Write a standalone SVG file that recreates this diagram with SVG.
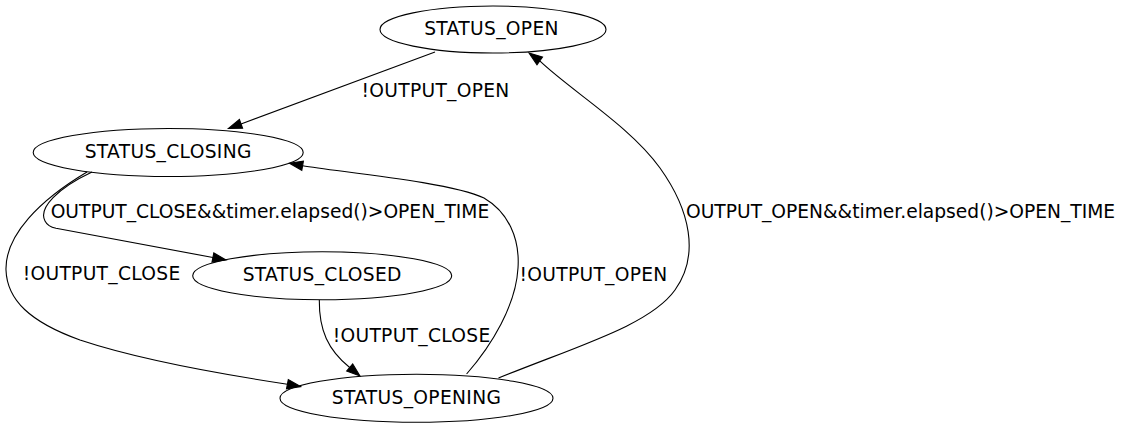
<svg xmlns="http://www.w3.org/2000/svg" width="1122" height="429" viewBox="0 0 1122 429">
<style>
.node ellipse{fill:none;stroke:#000;stroke-width:1.1}
text{font-family:"DejaVu Sans","Liberation Sans",sans-serif;font-size:18.67px;fill:#000}
.node text{text-anchor:middle;letter-spacing:0.33px}
.short{letter-spacing:0.3px}
.long{letter-spacing:0px}
.edge path{fill:none;stroke:#000;stroke-width:1.1}
.edge polygon{fill:#000;stroke:#000;stroke-width:1.1}
</style>
<rect width="1122" height="429" fill="#fff"/>
<g id="connectors">
  <g class="edge" id="e1">
    <path d="M435,52 L241,123.9"/>
    <polygon points="228.5,128.5 242.6,128.3 239.4,119.5"/>
    <text class="short" x="361.5" y="96.5">!OUTPUT_OPEN</text>
  </g>
  <g class="edge" id="e2">
    <path d="M92,172 C58,188 38,208 45,221 C47,225 50,227 56,228.3 L212.9,257.5"/>
    <polygon points="226,260 213.8,252.9 212,262.1"/>
    <text class="long" x="50.7" y="218.3">OUTPUT_CLOSE&amp;&amp;timer.elapsed()&gt;OPEN_TIME</text>
  </g>
  <g class="edge" id="e3">
    <path d="M87,172 C40,200 5,235 6,270 C7,300 30,322 80,340 C140,360 220,374 287.4,384.2"/>
    <polygon points="300.5,386.6 288.3,379.6 286.5,388.8"/>
    <text class="short" x="22.7" y="280">!OUTPUT_CLOSE</text>
  </g>
  <g class="edge" id="e4">
    <path d="M319.3,300 C319,330 328,350 349.7,367.5"/>
    <polygon points="360,376 352.7,363.9 346.7,371.1"/>
    <text class="short" x="332.7" y="341.7">!OUTPUT_CLOSE</text>
  </g>
  <g class="edge" id="e5">
    <path d="M466.6,374 C492,345 516,305 518,268 C520,238 508,212 484,198 C450,182 340,172 302.6,165.7"/>
    <polygon points="289.5,163.3 303.4,161.1 301.8,170.3"/>
    <text class="short" x="519.5" y="280.5">!OUTPUT_OPEN</text>
  </g>
  <g class="edge" id="e6">
    <path d="M498.5,378 C580,345 650,325 675,290 C700,255 690,210 660,168 C630,126 570,90 539.8,60.9"/>
    <polygon points="529,53 542.5,57.1 537,64.7"/>
    <text class="long" x="686" y="218.3">OUTPUT_OPEN&amp;&amp;timer.elapsed()&gt;OPEN_TIME</text>
  </g>
</g>
<g class="node" id="STATUS_OPEN">
  <ellipse cx="493" cy="29.5" rx="113" ry="23.5"/>
  <text x="491.5" y="35">STATUS_OPEN</text>
</g>
<g class="node" id="STATUS_CLOSING">
  <ellipse cx="168.2" cy="152.5" rx="135" ry="24"/>
  <text x="168.2" y="158">STATUS_CLOSING</text>
</g>
<g class="node" id="STATUS_CLOSED">
  <ellipse cx="322.2" cy="275.8" rx="129.5" ry="24"/>
  <text x="322.2" y="281.3">STATUS_CLOSED</text>
</g>
<g class="node" id="STATUS_OPENING">
  <ellipse cx="416.5" cy="398.3" rx="136.5" ry="24"/>
  <text x="416.5" y="403.8">STATUS_OPENING</text>
</g>
</svg>
